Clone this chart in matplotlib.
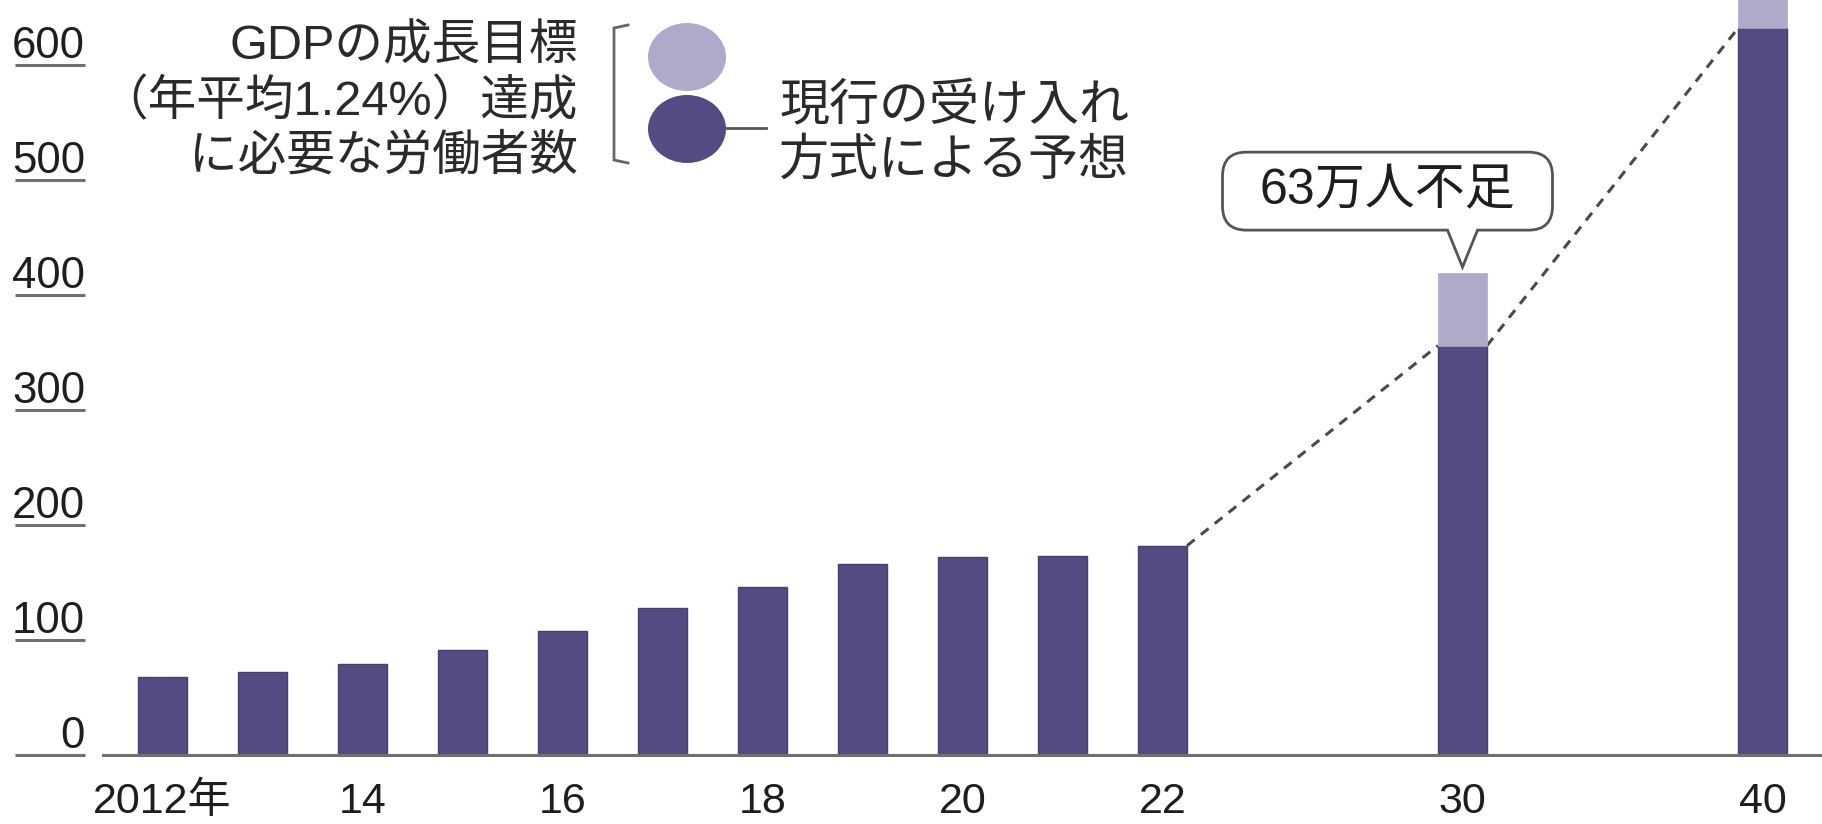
import numpy as np
import matplotlib
matplotlib.use("Agg")
import matplotlib.pyplot as plt
from matplotlib import font_manager as fm
from matplotlib.patches import Ellipse, PathPatch
from matplotlib.path import Path
from matplotlib.transforms import blended_transform_factory

# ---------------- data ----------------
years = [2012, 2013, 2014, 2015, 2016, 2017, 2018, 2019, 2020, 2021, 2022, 2030, 2040]
current = [68, 72, 79, 91, 108, 128, 146, 166, 172, 173, 182, 356, 632]   # 万人 (dark)
required = [np.nan] * 11 + [419, 674]                                       # 万人 (needed for GDP target)
xtick_years = [2012, 2014, 2016, 2018, 2020, 2022, 2030, 2040]
xtick_labels = ['2012年', '14', '16', '18', '20', '22', '30', '40']
yticks = [0, 100, 200, 300, 400, 500, 600]
legend_left = ['GDPの成長目標', '（年平均1.24%）達成', 'に必要な労働者数']
legend_right = ['現行の受け入れ', '方式による予想']

DARK = '#524c82'
DARK_EDGE = '#464070'
LIGHT = '#aeaac9'
GRAY = '#707070'

# ---------------- fonts ----------------
avail = {f.name for f in fm.fontManager.ttflist}
latin = 'Liberation Sans Narrow' if 'Liberation Sans Narrow' in avail else 'Liberation Sans'
FAM = [latin, 'Noto Sans CJK JP', 'DejaVu Sans']

W, H = 1822, 824
fig = plt.figure(figsize=(W / 100, H / 100), dpi=100)
fig.patch.set_facecolor('white')

ax = fig.add_axes([0, 0, 1, 1])
ann = fig.add_axes([0, 0, 1, 1], zorder=3)
ann.set_xlim(0, W)
ann.set_ylim(H, 0)
ann.axis('off')
ann.patch.set_alpha(0)

# category positions with gaps before 2030 and 2040
years_arr = np.array(years)
xpos = np.arange(len(years)) + np.where(years_arr >= 2030, 2, 0) + np.where(years_arr >= 2040, 2, 0)
pos_of = dict(zip(years, xpos))

ax.set_xlim(-1.625, 16.595)
ax.set_ylim(-60, 656.5)
ax.axis('off')

sx = (16.595 + 1.625) / W     # data units per pixel (x)
sy = (656.5 + 60) / H         # data units per pixel (y)

bw = 0.49
cur = np.array(current, dtype=float)
req = np.array(required, dtype=float)
short = req - cur

ax.bar(xpos, cur, width=bw, color=DARK, edgecolor=DARK_EDGE, linewidth=1, zorder=2)
mask = ~np.isnan(req)
ax.bar(xpos[mask], short[mask], bottom=cur[mask], width=bw, color=LIGHT,
       edgecolor=LIGHT, linewidth=0.5, zorder=2)

# baseline
ax.axhline(0, xmin=103 / W, xmax=1, color=GRAY, lw=2.2, zorder=3)

# dashed connectors between current-trend tops
idx = [10, 11, 12]
for a, b in zip(idx[:-1], idx[1:]):
    ax.plot([xpos[a] + bw / 2, xpos[b] - bw / 2], [cur[a], cur[b]],
            color='#4a4a4a', lw=2.2, ls=(0, (3.2, 2.6)), zorder=1)

# y tick labels with underlines
tr = blended_transform_factory(ann.transData, ax.transData)
for v in yticks:
    ax.hlines(v, 15, 85, transform=tr, color=GRAY, lw=2.2)
    ax.text(85, v + 7 * sy, str(v), transform=tr, ha='right', va='baseline',
            fontsize=31.5, family=FAM, color='#1e1e1e')

# x tick labels
for yr, lab in zip(xtick_years, xtick_labels):
    ax.text(pos_of[yr], -58 * sy, lab, ha='center', va='baseline', fontsize=31,
            family=FAM, color='#1e1e1e')

# callout "63万人不足"
i30 = years.index(2030)
tipx = xpos[i30]
tipy = req[i30] + 6 * sy
L = tipx - 240 * sx
R = tipx + 90 * sx
B = tipy + 37 * sy
T = B + 78 * sy
rx, ry = 24 * sx, 24 * sy
nw = 15 * sx
verts = [(L + rx, B), (tipx - nw, B), (tipx, tipy), (tipx + nw, B), (R - rx, B),
         (R, B), (R, B + ry), (R, T - ry), (R, T), (R - rx, T), (L + rx, T),
         (L, T), (L, T - ry), (L, B + ry), (L, B), (L + rx, B), (L + rx, B)]
codes = [Path.MOVETO, Path.LINETO, Path.LINETO, Path.LINETO, Path.LINETO,
         Path.CURVE3, Path.CURVE3, Path.LINETO, Path.CURVE3, Path.CURVE3, Path.LINETO,
         Path.CURVE3, Path.CURVE3, Path.LINETO, Path.CURVE3, Path.CURVE3, Path.CLOSEPOLY]
ax.add_patch(PathPatch(Path(verts, codes), facecolor='white', edgecolor='#555555',
                       lw=2.0, zorder=4))
ax.text((L + R) / 2, (B + T) / 2, f'{int(round(short[i30]))}万人不足', ha='center',
        va='center', fontsize=36, family=FAM, color='#1e1e1e', zorder=5)

# ---------------- legend (pixel coordinates) ----------------
for k, line in enumerate(legend_left):
    ann.text(578, 47 + 55 * k, line, ha='right', va='center', fontsize=35,
             family=FAM, color='#2a2a2a')
ann.plot([628, 614, 614, 628], [25, 28, 160, 163], color='#666666', lw=2.0,
         solid_joinstyle='miter')
ann.add_patch(Ellipse((687, 57), 78, 68, facecolor=LIGHT, edgecolor='none'))
ann.add_patch(Ellipse((687, 129), 78, 68, facecolor=DARK, edgecolor='none'))
ann.plot([727, 766], [128, 128], color='#555555', lw=2.0)
for k, line in enumerate(legend_right):
    ann.text(779, 107 + 54 * k, line, ha='left', va='center', fontsize=36,
             family=FAM, color='#2a2a2a')

fig.savefig('out.png', dpi=100, facecolor='white')
